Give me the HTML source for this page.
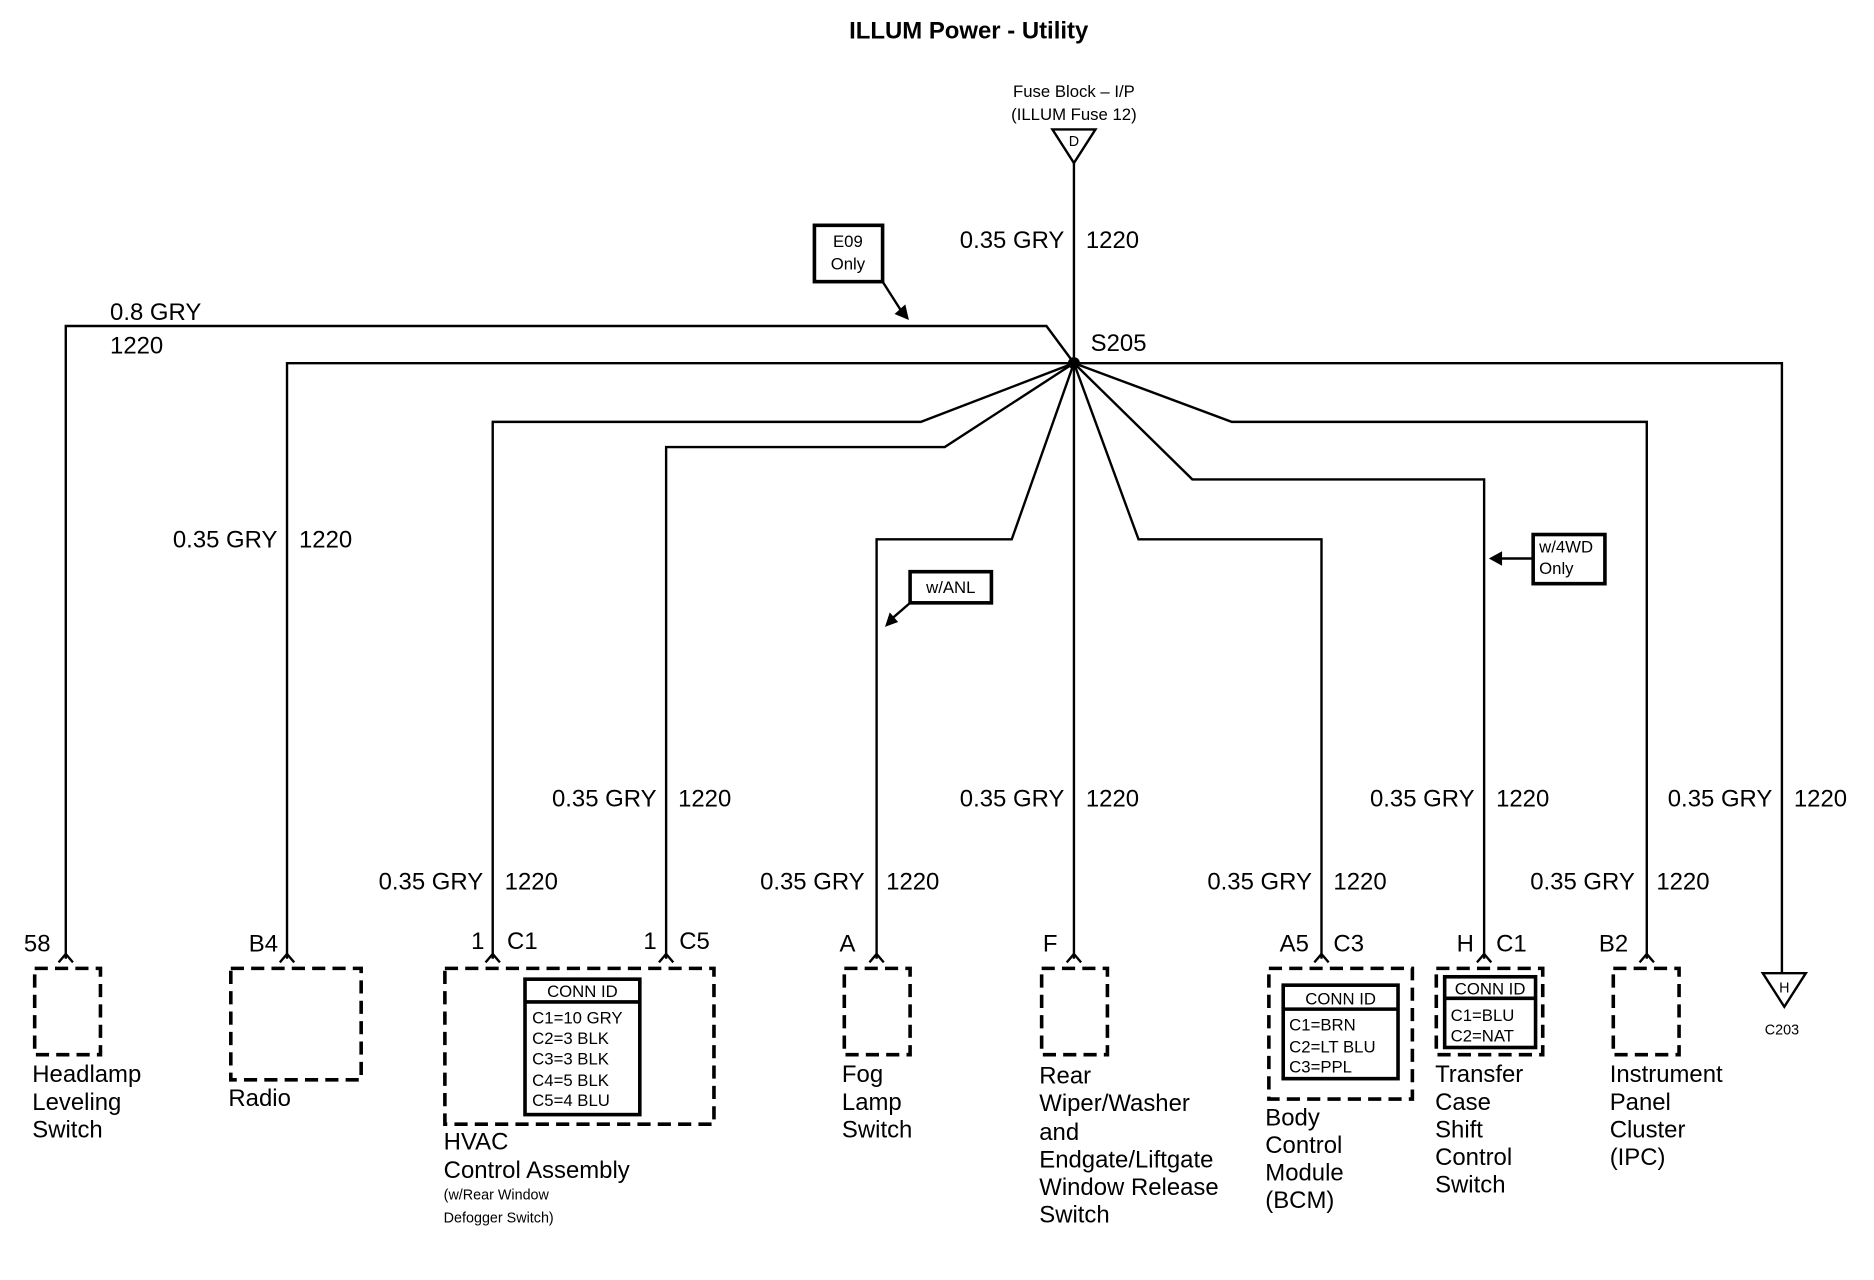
<!DOCTYPE html>
<html><head><style>
html,body{margin:0;padding:0;background:#fff}
svg{display:block}
text{font-family:"Liberation Sans",Arial,sans-serif;fill:#000}
.t{font-size:20px}
.s{font-size:14px}
.x{font-size:12px}
</style></head><body>
<svg width="1874" height="1280" viewBox="0 0 1567 1068" preserveAspectRatio="none" xmlns="http://www.w3.org/2000/svg">
<g fill="none" stroke="#000" stroke-width="2">
<polygon points="880,108 916,108 898,136"/>
<line x1="898" y1="136" x2="898" y2="303"/>
<polyline points="55,800 55,272 875,272 898,303"/>
<polyline points="240,800 240,303 1490,303 1490,812"/>
<polyline points="412,800 412,352 770,352 898,303"/>
<polyline points="557,800 557,373 790,373 898,303"/>
<polyline points="733,800 733,450 846,450 898,303"/>
<line x1="898" y1="303" x2="898" y2="800"/>
<polyline points="1105,800 1105,450 952,450 898,303"/>
<polyline points="1241,800 1241,400 997,400 898,303"/>
<polyline points="1377,800 1377,352 1030,352 898,303"/>
<polygon points="1474,812 1510,812 1492,840"/>
<path d="M49,803 L55,796 L61,803 M234,803 L240,796 L246,803 M406,803 L412,796 L418,803 M551,803 L557,796 L563,803 M727,803 L733,796 L739,803 M892,803 L898,796 L904,803 M1099,803 L1105,796 L1111,803 M1235,803 L1241,796 L1247,803 M1371,803 L1377,796 L1383,803"/>
<rect x="681" y="188" width="57" height="47" stroke-width="3"/>
<line x1="738" y1="235" x2="754" y2="260"/>
<rect x="761" y="477" width="68" height="26" stroke-width="3"/>
<line x1="761" y1="503" x2="746" y2="516"/>
<rect x="1282" y="446" width="60" height="41" stroke-width="3"/>
<line x1="1282" y1="466" x2="1254" y2="466"/>
</g>
<g fill="#000">
<circle cx="898" cy="303" r="5"/>
<polygon points="760,267 748,262 757,254"/>
<polygon points="740,523 744,511 751,519"/>
<polygon points="1245,466 1256,460 1256,472"/>
</g>
<g fill="none" stroke="#000" stroke-width="3" stroke-dasharray="11,6">
<rect x="29" y="808" width="55" height="72"/>
<rect x="193" y="808" width="109" height="93"/>
<rect x="372" y="808" width="225" height="130"/>
<rect x="706" y="808" width="55" height="72"/>
<rect x="871" y="808" width="55" height="72"/>
<rect x="1061" y="808" width="120" height="109"/>
<rect x="1201" y="808" width="89" height="72"/>
<rect x="1349" y="808" width="55" height="72"/>
</g>
<g fill="none" stroke="#000" stroke-width="3">
<rect x="439" y="817" width="96" height="113"/>
<line x1="439" y1="836" x2="535" y2="836"/>
<rect x="1073" y="822" width="96" height="78"/>
<line x1="1073" y1="842" x2="1169" y2="842"/>
<rect x="1208" y="815" width="76" height="59"/>
<line x1="1208" y1="833" x2="1284" y2="833"/>
</g>
<text x="810" y="32" text-anchor="middle" style="font-size:20px;font-weight:bold">ILLUM Power - Utility</text>
<text x="898" y="81" text-anchor="middle" class="s">Fuse Block – I/P</text>
<text x="898" y="100" text-anchor="middle" class="s">(ILLUM Fuse 12)</text>
<text x="898" y="122" text-anchor="middle" class="x">D</text>
<text x="1492" y="828" text-anchor="middle" class="x">H</text>
<text x="1490" y="863" text-anchor="middle" class="x">C203</text>
<text x="709" y="206" text-anchor="middle" class="s">E09</text>
<text x="709" y="225" text-anchor="middle" class="s">Only</text>
<text x="795" y="495" text-anchor="middle" class="s">w/ANL</text>
<text x="1287" y="461" class="s">w/4WD</text>
<text x="1287" y="479" class="s">Only</text>
<g class="t">
<text x="890" y="207" text-anchor="end">0.35 GRY</text><text x="908" y="207">1220</text>
<text x="92" y="267">0.8 GRY</text><text x="92" y="295">1220</text>
<text x="912" y="293">S205</text>
<text x="232" y="457" text-anchor="end">0.35 GRY</text><text x="250" y="457">1220</text>
<text x="549" y="673" text-anchor="end">0.35 GRY</text><text x="567" y="673">1220</text>
<text x="890" y="673" text-anchor="end">0.35 GRY</text><text x="908" y="673">1220</text>
<text x="1233" y="673" text-anchor="end">0.35 GRY</text><text x="1251" y="673">1220</text>
<text x="1482" y="673" text-anchor="end">0.35 GRY</text><text x="1500" y="673">1220</text>
<text x="404" y="742" text-anchor="end">0.35 GRY</text><text x="422" y="742">1220</text>
<text x="723" y="742" text-anchor="end">0.35 GRY</text><text x="741" y="742">1220</text>
<text x="1097" y="742" text-anchor="end">0.35 GRY</text><text x="1115" y="742">1220</text>
<text x="1367" y="742" text-anchor="end">0.35 GRY</text><text x="1385" y="742">1220</text>
<text x="20" y="794">58</text>
<text x="208" y="794">B4</text>
<text x="394" y="792">1</text><text x="424" y="792">C1</text>
<text x="538" y="792">1</text><text x="568" y="792">C5</text>
<text x="702" y="794">A</text>
<text x="872" y="794">F</text>
<text x="1070" y="794">A5</text><text x="1115" y="794">C3</text>
<text x="1218" y="794">H</text><text x="1251" y="794">C1</text>
<text x="1337" y="794">B2</text>
<text x="27" y="903">Headlamp</text><text x="27" y="926">Leveling</text><text x="27" y="949">Switch</text>
<text x="191" y="923">Radio</text>
<text x="371" y="959">HVAC</text><text x="371" y="983">Control Assembly</text>
<text x="704" y="903">Fog</text><text x="704" y="926">Lamp</text><text x="704" y="949">Switch</text>
<text x="869" y="904">Rear</text><text x="869" y="927">Wiper/Washer</text><text x="869" y="951">and</text><text x="869" y="974">Endgate/Liftgate</text><text x="869" y="997">Window Release</text><text x="869" y="1020">Switch</text>
<text x="1058" y="939">Body</text><text x="1058" y="962">Control</text><text x="1058" y="985">Module</text><text x="1058" y="1008">(BCM)</text>
<text x="1200" y="903">Transfer</text><text x="1200" y="926">Case</text><text x="1200" y="949">Shift</text><text x="1200" y="972">Control</text><text x="1200" y="995">Switch</text>
<text x="1346" y="903">Instrument</text><text x="1346" y="926">Panel</text><text x="1346" y="949">Cluster</text><text x="1346" y="972">(IPC)</text>
</g>
<text x="371" y="1001" class="x">(w/Rear Window</text>
<text x="371" y="1020" class="x">Defogger Switch)</text>
<g class="s">
<text x="487" y="832" text-anchor="middle">CONN ID</text>
<text x="445" y="854">C1=10 GRY</text><text x="445" y="871">C2=3 BLK</text><text x="445" y="888">C3=3 BLK</text><text x="445" y="906">C4=5 BLK</text><text x="445" y="923">C5=4 BLU</text>
<text x="1121" y="838" text-anchor="middle">CONN ID</text>
<text x="1078" y="860">C1=BRN</text><text x="1078" y="878">C2=LT BLU</text><text x="1078" y="895">C3=PPL</text>
<text x="1246" y="830" text-anchor="middle">CONN ID</text>
<text x="1213" y="852">C1=BLU</text><text x="1213" y="869">C2=NAT</text>
</g>
</svg>
</body></html>
